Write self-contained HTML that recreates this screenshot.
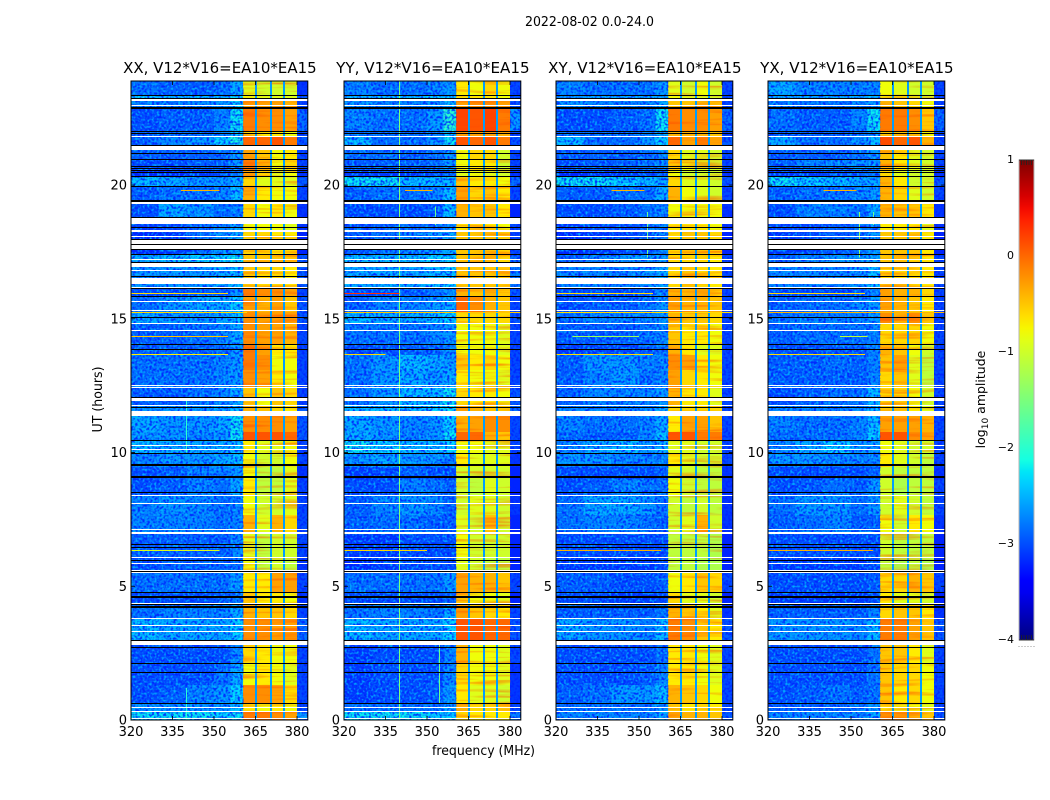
<!DOCTYPE html>
<html lang="en">
<head>
<meta charset="utf-8">
<title>2022-08-02 0.0-24.0</title>
<style>
html,body{margin:0;padding:0;background:#fff;width:1050px;height:800px;overflow:hidden}
svg{display:block}
text{font-family:"DejaVu Sans","Liberation Sans",sans-serif;fill:#000}
</style>
</head>
<body>
<svg id="figure" xmlns="http://www.w3.org/2000/svg" width="1050" height="800" viewBox="0 0 1050 800">
  <defs>
    <linearGradient id="cbGrad" x1="0" y1="1" x2="0" y2="0"></linearGradient>
    <filter id="grainLight" x="0" y="0" width="1" height="1" color-interpolation-filters="sRGB">
      <feTurbulence type="fractalNoise" baseFrequency="0.42" numOctaves="1" seed="3"/>
      <feColorMatrix type="matrix" values="0 0 0 0 0  0 0 0 0 0.72  0 0 0 0 1  0 0 0 3.6 -1.75"/>
    </filter>
    <filter id="grainDark" x="0" y="0" width="1" height="1" color-interpolation-filters="sRGB">
      <feTurbulence type="fractalNoise" baseFrequency="0.42" numOctaves="1" seed="11"/>
      <feColorMatrix type="matrix" values="0 0 0 0 0  0 0 0 0 0.14  0 0 0 0 1  0 0 0 4.2 -1.8"/>
    </filter>
    <filter id="bandStreak" x="0" y="0" width="1" height="1" color-interpolation-filters="sRGB">
      <feTurbulence type="fractalNoise" baseFrequency="0.015 0.28" numOctaves="2" seed="7"/>
      <feColorMatrix type="matrix" values="0 0 0 0 1  0 0 0 0 0.3  0 0 0 0 0  0 0 0 3 -1.5"/>
    </filter>
  </defs>
  <text x="589.5" y="26" font-size="13" text-anchor="middle" textLength="129" lengthAdjust="spacingAndGlyphs">2022-08-02 0.0-24.0</text>
  <text x="483.5" y="755" font-size="13" text-anchor="middle" textLength="103" lengthAdjust="spacingAndGlyphs">frequency (MHz)</text>
  <text x="0" y="0" transform="translate(102,399.5) rotate(-90)" font-size="13" text-anchor="middle" textLength="66" lengthAdjust="spacingAndGlyphs">UT (hours)</text>
  <text x="0" y="0" transform="translate(985,399.5) rotate(-90)" font-size="12.5" text-anchor="middle">log<tspan font-size="9" dy="3">10</tspan><tspan dy="-3"> amplitude</tspan></text>
</svg>
<script>
// Axis domains
const freqMin = 320, freqMax = 383.9;
const hourMin = 0, hourMax = 23.89;
const colorMin = -4, colorMax = 1;

// Tick labels
const freqTicks = [320, 335, 350, 365, 380];
const hourTicks = [0, 5, 10, 15, 20];
const colorTicks = [1, 0, -1, -2, -3, -4];
const colorTickLabels = ['1', '0', '\u22121', '\u22122', '\u22123', '\u22124'];

// Panel titles
const panelTitles = ['XX, V12*V16=EA10*EA15', 'YY, V12*V16=EA10*EA15', 'XY, V12*V16=EA10*EA15', 'YX, V12*V16=EA10*EA15'];
const panelKeys = ['xx', 'yy', 'xy', 'yx'];

// Frequency channel edges (MHz): 5 background blocks, then the bright bands and the notches between them
const bgEdges = [320, 330, 340, 350, 356, 360.5];
const bandRanges = [[360.5, 364.8], [365.5, 370.2], [370.9, 374.9], [375.7, 380]];
const notchRanges = [[364.8, 365.5], [370.2, 370.9], [374.9, 375.7]];
const postRange = [380, 384];
const notchLevel = [-2.6, -2.6, -2.6, -2.6];

// Time block upper edges (UT hours)
const blockTops = [23.89,23.36,23.18,22.84,22.02,21.79,21.31,20.97,20.56,20.34,19.96,19.29,18.54,18.24,17.42,16.95,16.15,15.85,15.25,14.80,14.06,13.64,13.08,12.45,11.74,11.36,10.77,10.43,9.98,9.46,9.01,8.37,7.66,6.95,6.06,5.50,4.79,4.34,3.78,2.99,2.09,1.31,0.60,0.30];

// log10 amplitude per block: five background blocks, four bands, post-band
const valuesXX = [
[-2.8,-2.9,-2.9,-2.8,-2.5,-.9,-1,-1,-1,-3.1],[-2.3,-2.4,-2.4,-2.4,-2.2,-.8,-.9,-.9,-.9,-2.9],[-2.7,-2.7,-2.7,-2.6,-2.3,-.3,-.3,-.3,-.4,-3],[-3,-2.9,-2.9,-2.7,-2.2,-.1,-.2,-.2,-.3,-2.8],
[-2.9,-2.8,-2.8,-2.7,-2.4,-.7,-.7,-.7,-.8,-3],[-2.9,-2.7,-2.6,-2.3,-2.1,0,0,.1,-.1,-2.9],[-2.9,-2.9,-2.9,-2.8,-2.6,-.3,-.5,-.8,-.7,-3],[-3,-3,-2.9,-2.9,-2.6,-.1,-.4,-.8,-.6,-3],
[-3.2,-3.2,-3.1,-3,-2.8,-.3,-.6,-.9,-.8,-3.1],[-2.4,-2.5,-2.6,-2.6,-2.5,-.6,-.9,-.9,-.9,-2.9],[-2.9,-2.8,-2.8,-2.7,-2.4,-.4,-.7,-.8,-.8,-3],[-3,-2.5,-2.6,-2.8,-2.7,-.6,-.8,-.7,-.8,-3.1],
[-3.1,-3,-2.8,-2.7,-2.5,-.8,-.8,-.8,-.9,-3.1],[-3.2,-3.1,-2.8,-2.6,-2.5,-.6,-.6,-.7,-.7,-3.2],[-2.5,-2.4,-2.3,-2.3,-2.2,-.5,-.5,-.5,-.6,-2.9],[-2.6,-2.6,-2.6,-2.5,-2.4,-.5,-.6,-.6,-.7,-2.9],
[-3,-3,-2.9,-2.9,-2.6,-.1,-.2,-.2,-.3,-3],[-2.8,-2.6,-2.5,-2.5,-2.3,-.3,-.4,-.3,-.5,-2.9],[-2.5,-2.6,-2.6,-2.5,-2.4,-.2,-.3,-.3,-.3,-2.9],[-2.9,-2.9,-2.8,-2.7,-2.5,-.2,-.3,-.3,-.4,-3],
[-2.9,-2.9,-2.9,-2.8,-2.6,-.1,-.3,-.7,-.7,-3],[-2.8,-2.8,-2.8,-2.7,-2.6,-.1,-.2,-.8,-.8,-3],[-2.8,-2.8,-2.8,-2.7,-2.6,-.2,-.3,-.7,-.8,-3],[-2.9,-2.9,-2.8,-2.7,-2.5,-.5,-.8,-.5,-.6,-3],
[-2.6,-2.6,-2.6,-2.5,-2.4,-.4,-.5,-.6,-.7,-2.9],[-2.5,-2.6,-2.6,-2.5,-2.2,-.2,-.2,-.2,-.3,-2.9],[-2.6,-2.6,-2.7,-2.6,-2.2,.1,.1,.1,0,-2.9],[-2.4,-2.5,-2.5,-2.5,-2.4,-.7,-.9,-.9,-.8,-3],
[-2.7,-2.6,-2.6,-2.5,-2.4,-.8,-1,-1,-.8,-3],[-3,-2.9,-2.7,-2.7,-2.6,-.8,-1.1,-1.1,-.9,-3.1],[-3,-2.9,-2.7,-2.8,-2.5,-.7,-1.1,-1.1,-.9,-3],[-2.7,-2.6,-2.7,-2.8,-2.7,-.8,-1,-1,-.9,-3],
[-2.7,-2.7,-2.7,-2.8,-2.7,-.4,-.9,-.4,-.6,-3],[-2.9,-2.9,-2.9,-2.9,-2.7,-.9,-1.1,-1,-1,-3],[-3,-2.9,-2.9,-2.9,-2.8,-.8,-1.1,-1,-1.1,-3.1],[-2.8,-2.8,-2.8,-2.8,-2.6,-.7,-.7,-.3,-.3,-3],
[-3,-3,-3,-2.9,-2.8,-.5,-.7,-.7,-.8,-3.1],[-2.8,-2.7,-2.7,-2.7,-2.5,-.4,-.5,-.5,-.6,-3],[-2.4,-2.5,-2.5,-2.5,-2.3,-.2,-.2,-.3,-.3,-2.8],[-3,-3,-3,-3,-2.7,-.6,-.7,-.8,-.8,-3],
[-3,-3,-3,-2.8,-2.5,-.8,-.7,-.8,-.9,-3],[-3,-2.9,-2.7,-2.6,-2.3,-.2,-.2,-.3,-.6,-3],[-2.6,-2.6,-2.6,-2.6,-2.4,-.7,-.8,-.7,-.8,-3],[-2.2,-2.2,-2.2,-2.3,-2.2,-.1,-.1,-.2,-.3,-2.6]
];
const valuesYY = [
[-2.7,-2.8,-2.8,-2.7,-2.6,-.7,-.8,-.6,-.8,-3],[-2.4,-2.4,-2.4,-2.3,-2.3,-.7,-.7,-.7,-.8,-2.9],[-2.6,-2.7,-2.7,-2.6,-2.4,-.3,-.2,-.2,-.3,-2.9],[-2.7,-2.8,-2.8,-2.6,-2,.2,.1,.2,-.1,-2.6],
[-2.8,-2.8,-2.8,-2.7,-2.4,-.3,-.3,-.3,-.4,-3],[-2.4,-2.8,-2.8,-2.6,-2.2,.1,0,.1,-.1,-2.9],[-2.8,-2.8,-2.9,-2.8,-2.6,-.8,-.6,-.6,-1,-3],[-2.9,-2.9,-2.9,-2.8,-2.6,-.8,-.7,-.7,-1,-3],
[-3.1,-3.1,-3.1,-3,-2.9,-.9,-.8,-.9,-1,-3.1],[-2.2,-2.2,-2.4,-2.4,-2.4,-.5,-.7,-.7,-.8,-2.8],[-2.9,-2.8,-2.8,-2.7,-2.4,-.3,-.6,-.5,-.7,-3],[-3,-3,-3,-2.9,-2.4,-.4,-.5,-.5,-.7,-3.2],
[-3,-2.9,-2.8,-2.8,-2.7,-.7,-.6,-.7,-.8,-3],[-2.9,-2.8,-2.7,-2.6,-2.5,-.5,-.5,-.5,-.6,-3],[-2.4,-2.4,-2.4,-2.3,-2.3,-.5,-.5,-.5,-.6,-2.8],[-2.5,-2.5,-2.5,-2.4,-2.3,-.5,-.5,-.5,-.5,-2.7],
[-3,-3,-2.9,-2.8,-2.6,-.4,-.5,-.4,-.5,-2.9],[-2.9,-2.7,-2.7,-2.6,-2.5,0,-.2,-.4,-.5,-3],[-2.4,-2.5,-2.5,-2.4,-2.3,-.6,-.6,-.6,-.6,-2.9],[-2.8,-2.8,-2.8,-2.7,-2.6,-.8,-.8,-.8,-.9,-3],
[-3,-3,-2.9,-2.9,-2.7,-.8,-.8,-.8,-.9,-3],[-2.8,-2.6,-2.4,-2.5,-2.6,-.5,-.7,-.6,-.8,-3],[-2.8,-2.6,-2.5,-2.6,-2.5,-.7,-.8,-.8,-.9,-3],[-2.8,-2.6,-2.4,-2.4,-2.2,-.6,-.7,-.7,-.8,-2.9],
[-2.4,-2.4,-2.4,-2.3,-2.2,-.3,-.4,-.5,-.5,-2.8],[-2.5,-2.6,-2.7,-2.6,-2.3,-.4,-.3,-.2,-.2,-3],[-2.5,-2.6,-2.7,-2.6,-2.2,0,0,-.4,-.5,-3],[-2.2,-2.3,-2.4,-2.4,-2.3,-.8,-.8,-.9,-.9,-3],
[-2.6,-2.5,-2.6,-2.6,-2.7,-.7,-.9,-.9,-.9,-3.1],[-3.1,-3,-2.9,-3,-3,-1,-1,-1,-1,-3.2],[-3,-3,-2.7,-2.8,-2.9,-1,-1.1,-.9,-1,-3.2],[-2.9,-2.7,-2.6,-2.7,-2.9,-1,-.9,-.9,-1,-3.1],
[-2.9,-2.8,-2.8,-2.9,-2.9,-.9,-1,-.5,-1,-3.2],[-3.1,-3.1,-3,-3,-3,-.8,-1,-1,-1,-3.2],[-3.2,-3.1,-3,-3,-3,-.9,-1,-1.1,-1.1,-3.2],[-2.8,-2.8,-2.8,-2.8,-2.6,-.3,-.4,-.4,-.5,-3],
[-3,-3,-3,-3,-2.9,-.5,-.8,-.8,-.9,-3.2],[-2.8,-2.7,-2.7,-2.8,-2.5,-.3,-.5,-.6,-.7,-3],[-2.4,-2.5,-2.5,-2.5,-2.3,.1,.1,0,0,-2.9],[-3.1,-3,-3,-3,-2.7,-.4,-.8,-.8,-.9,-3],
[-3.1,-3,-3,-3,-2.7,-.6,-.8,-.8,-.9,-3.1],[-3.1,-3,-3,-2.9,-2.6,-.7,-.9,-.9,-1,-3.1],[-2.8,-2.8,-2.8,-2.8,-2.5,-.4,-.6,-.6,-.5,-3],[-2.2,-2.2,-2.2,-2.3,-2.3,-.6,-.7,-.7,-.7,-2.7]
];
const valuesXY = [
[-2.7,-2.8,-2.8,-2.8,-2.6,-.9,-1,-.8,-1,-3],[-2.6,-2.5,-2.5,-2.5,-2.4,-.8,-.9,-.9,-1,-3],[-2.6,-2.7,-2.7,-2.7,-2.5,-.5,-.5,-.4,-.5,-3],[-3,-3,-2.9,-2.8,-2.2,-.1,-.2,-.2,-.3,-2.8],
[-2.8,-2.8,-2.8,-2.7,-2.5,-.4,-.4,-.4,-.5,-3],[-2.4,-2.8,-2.8,-2.6,-2.3,0,-.3,-.1,-.3,-2.9],[-2.9,-2.9,-2.9,-2.8,-2.7,-.6,-.9,-.9,-1,-3],[-3,-2.9,-2.9,-2.8,-2.7,-.5,-.8,-.9,-1,-3],
[-3.2,-3.1,-3.1,-3,-2.9,-.8,-1,-1,-1,-3.1],[-2.2,-2.2,-2.3,-2.4,-2.5,-.6,-.9,-.9,-1,-2.9],[-2.9,-2.9,-2.8,-2.8,-2.5,-.4,-.8,-.9,-1,-3],[-3,-3,-2.9,-2.8,-2.7,-.8,-.8,-.8,-.8,-3.1],
[-3.1,-3,-3,-2.9,-2.7,-.7,-.7,-.7,-.8,-3.1],[-3.2,-3.1,-3,-2.9,-2.7,-.6,-.5,-.5,-.6,-3.2],[-2.9,-2.7,-2.6,-2.6,-2.6,-.6,-.6,-.6,-.7,-3],[-2.7,-2.7,-2.7,-2.6,-2.5,-.6,-.5,-.6,-.7,-3],
[-3,-3,-3,-2.9,-2.7,-.4,-.5,-.5,-.6,-3],[-3,-2.9,-2.9,-2.8,-2.6,-.3,-.4,-.4,-.5,-3],[-2.8,-2.7,-2.7,-2.7,-2.6,-.4,-.5,-.5,-.6,-3],[-2.9,-2.9,-2.9,-2.8,-2.7,-.5,-.7,-.7,-.8,-3],
[-3.1,-3,-3,-2.9,-2.8,-.4,-.7,-.9,-.9,-3],[-2.9,-2.6,-2.6,-2.7,-2.7,-.2,-.3,-.7,-.8,-3],[-2.9,-2.7,-2.6,-2.8,-2.7,-.3,-.6,-.7,-.8,-3],[-2.9,-2.7,-2.7,-2.7,-2.6,-.4,-.7,-.7,-.9,-3],
[-2.7,-2.7,-2.7,-2.7,-2.5,-.6,-.6,-.6,-.6,-3],[-2.7,-2.8,-2.8,-2.7,-2.5,-.7,-.3,-.3,-.5,-3],[-2.8,-2.9,-2.9,-2.7,-2.4,.1,.1,-.1,-.1,-3],[-2.7,-2.5,-2.4,-2.6,-2.5,-.9,-.9,-1,-1,-3],
[-2.6,-2.6,-2.7,-2.7,-2.7,-.7,-.9,-1,-1,-3],[-3,-3,-3,-3,-2.9,-.9,-1,-1.1,-1.1,-3.1],[-3,-2.9,-2.7,-2.8,-2.8,-.8,-1,-1.1,-1.1,-3.1],[-2.8,-2.5,-2.5,-2.6,-2.8,-1,-1.1,-1,-1.1,-3.1],
[-2.8,-2.7,-2.7,-2.8,-2.9,-1,-.9,-.4,-1,-3.1],[-3,-3,-3,-3,-3,-1.1,-1.1,-1.1,-1.2,-3.2],[-3.1,-3.1,-3.1,-3.1,-3,-1.1,-1.1,-1.2,-1.2,-3.2],[-2.9,-2.9,-3,-3,-2.9,-.8,-.7,-.5,-.6,-3],
[-3,-3,-3.1,-3.1,-3,-.6,-.9,-.9,-1,-3.2],[-2.9,-2.9,-2.9,-2.9,-2.8,-.4,-.5,-.7,-.9,-3.1],[-2.5,-2.6,-2.6,-2.7,-2.4,-.1,-.2,-.5,-.7,-2.9],[-3,-3,-3,-3,-2.8,-.7,-.7,-.8,-.9,-3],
[-3,-3,-3,-2.9,-2.7,-.7,-.7,-.8,-.9,-3],[-2.9,-2.8,-2.6,-2.6,-2.4,-.4,-.5,-.6,-.8,-3],[-2.8,-2.8,-2.8,-2.8,-2.6,-.5,-.7,-.6,-.7,-3],[-2.7,-2.7,-2.7,-2.7,-2.5,-.3,-.4,-.4,-.5,-2.9]
];
const valuesYX = [
[-2.5,-2.7,-2.7,-2.7,-2.7,-.8,-.9,-1,-1,-3],[-2.5,-2.5,-2.5,-2.5,-2.4,-.8,-.8,-.9,-1,-3],[-2.7,-2.8,-2.8,-2.7,-2.6,-.4,-.5,-.6,-.8,-3],[-2.8,-2.9,-2.9,-2.7,-2.2,-.1,-.1,-.2,-.5,-2.8],
[-2.9,-2.9,-2.9,-2.8,-2.6,-.5,-.5,-.6,-.8,-3],[-2.5,-2.8,-2.8,-2.6,-2.4,.15,0,.1,-.4,-3],[-2.9,-2.9,-2.9,-2.8,-2.6,-.5,-.7,-.9,-1,-3],[-2.9,-2.7,-2.7,-2.6,-2.6,-.4,-.7,-.9,-1,-3],
[-3.1,-3.1,-3,-2.9,-2.8,-.6,-.9,-1,-1,-3.1],[-2.2,-2.3,-2.4,-2.5,-2.5,-.4,-.7,-1,-1,-2.9],[-2.9,-2.8,-2.8,-2.7,-2.6,-.4,-.6,-.9,-1,-3],[-3,-2.7,-2.7,-2.8,-2.5,-.4,-.5,-.5,-.7,-3.1],
[-3,-3,-2.9,-2.8,-2.7,-.7,-.7,-.7,-.9,-3.1],[-3.1,-3,-2.9,-2.8,-2.6,-.5,-.5,-.5,-.7,-3.2],[-2.9,-2.7,-2.6,-2.6,-2.5,-.5,-.5,-.6,-.7,-3],[-2.7,-2.7,-2.7,-2.6,-2.4,-.6,-.6,-.6,-.7,-3],
[-3,-3,-3,-2.9,-2.7,-.3,-.4,-.4,-.6,-3],[-2.9,-2.8,-2.8,-2.7,-2.6,-.3,-.4,-.5,-.7,-3],[-2.8,-2.7,-2.7,-2.7,-2.6,-.2,-.4,-.2,-.5,-3],[-2.9,-2.8,-2.8,-2.8,-2.7,-.6,-.6,-.6,-.8,-3],
[-3,-3,-2.9,-2.9,-2.7,-.4,-.5,-.8,-1,-3],[-2.9,-2.9,-2.8,-2.9,-2.7,-.5,-.3,-.9,-1.1,-3],[-2.9,-2.9,-2.9,-2.9,-2.7,-.6,-.5,-.9,-1.1,-3],[-3,-2.9,-2.8,-2.8,-2.4,-.6,-.6,-.8,-1,-3],
[-2.7,-2.7,-2.7,-2.7,-2.4,-.5,-.5,-.7,-.9,-3],[-2.7,-2.8,-2.8,-2.7,-2.4,-.3,-.3,-.3,-.4,-3],[-2.8,-2.8,-2.8,-2.7,-2.3,.1,.1,-.2,-.3,-3],[-2.7,-2.5,-2.3,-2.6,-2.6,-.8,-.9,-1,-1,-3],
[-2.6,-2.6,-2.7,-2.7,-2.7,-.7,-.9,-1,-1.1,-3],[-3,-3,-3,-3,-2.9,-1,-1.1,-1.1,-1.1,-3.1],[-3,-2.9,-2.8,-2.9,-2.6,-1,-1.2,-1.1,-1.1,-3],[-2.8,-2.6,-2.6,-2.8,-2.6,-1,-.9,-1,-1.1,-3],
[-2.9,-2.8,-2.7,-2.9,-2.9,-.8,-1,-.7,-.8,-3.1],[-3,-3,-3,-3,-3,-1,-1.1,-1.1,-1.1,-3.2],[-3.1,-3.1,-3.1,-3.1,-3,-1.1,-1.2,-1.1,-1.2,-3.2],[-3,-3,-3,-3,-2.9,-.6,-.6,-.4,-.5,-3],
[-3.1,-3.1,-3.1,-3.1,-3,-.7,-.9,-.9,-1,-3.2],[-2.9,-2.9,-2.9,-2.9,-2.7,-.6,-.5,-.5,-.7,-3.1],[-2.6,-2.6,-2.6,-2.7,-2.4,-.1,-.1,-.3,-.5,-2.9],[-3,-3,-3,-3,-2.8,-.5,-.5,-.7,-.9,-3],
[-3,-3,-3,-3,-2.8,-.5,-.6,-.6,-.8,-3],[-3,-2.9,-2.8,-2.9,-2.8,-.5,-.7,-.6,-.8,-3],[-2.9,-2.9,-2.9,-2.8,-2.6,-.6,-.8,-.8,-.9,-3],[-2.7,-2.7,-2.7,-2.7,-2.5,-.2,-.3,-.4,-.5,-2.9]
];

// Narrow interference tracks per panel: hour, start MHz, end MHz, log10 amplitude
const rfiXX = [[15.96,320,355,-.6],[15.26,320,362,-.6],[14.36,320,355,-.5],[13.68,320,355,-.7],[19.81,338,352,-.4],[6.37,320,352,-.9]];
const rfiYY = [[15.96,320,340,.3],[15.26,320,384,-.5],[13.68,320,335,-.6],[19.81,342,352,-.4],[6.37,320,350,-.6]];
const rfiXY = [[15.96,320,355,-.6],[15.26,320,384,-.6],[14.36,326,350,-1.3],[13.68,320,355,-.6],[19.81,340,352,-.4],[6.37,320,358,-.4]];
const rfiYX = [[15.96,320,355,-.6],[15.26,320,384,-.4],[14.36,346,356,-1.1],[13.68,320,355,-.6],[19.81,340,352,-.4],[6.37,320,358,-.4]];

// Vertical narrowband features per panel: MHz, start hour, end hour, log10 amplitude
const spurXX = [[340,0,1.2,-2],[340,10,12,-2]];
const spurYY = [[339.9,0,23.89,-1.5],[354.5,.6,2.9,-1.6],[353,18.5,19.2,-1.6]];
const spurXY = [[353,17.3,19,-1.6]];
const spurYX = [[353,17.3,19,-1.4],[358,18.5,19,-1.6]];

// Flagged (blank) time ranges: upper hour, lower hour
const blankRanges = [[23.20,23.16],[23.0,22.95],[21.83,21.79],[21.48,21.31],[19.36,19.29],[18.78,18.55],[18.32,18.24],[18.11,18.06],[17.94,17.81],[17.76,17.62],[17.23,17.18],[17.09,16.95],[16.81,16.77],[16.54,16.30],[16.19,16.15],[15.66,15.63],[15.32,15.28],[14.84,14.80],[14.59,14.55],[12.54,12.50],[12.46,12.42],[12.02,11.94],[11.79,11.75],[11.55,11.36],[10.27,10.23],[10.15,10.11],[8.43,8.39],[8.11,8.07],[7.14,7.10],[7.01,6.97],[6.09,6.05],[5.87,5.83],[5.61,5.51],[4.39,4.36],[3.83,3.79],[3.54,3.50],[3.33,3.29],[2.96,2.80],[0.49,0.45],[0.35,0.31],[0.07,0.04]];

// Zero-amplitude scans drawn as black lines (UT hours)
const darkScans = [23.36,23.24,22.03,21.93,21.50,21.21,20.96,20.71,20.65,20.56,20.49,20.34,19.97,18.79,18.42,17.98,17.79,17.61,17.42,17.14,16.60,16.14,15.86,15.08,14.06,13.87,12.06,11.70,10.46,10.0,8.51,6.57,6.48,5.99,5.57,4.80,4.35,3.00,2.72,2.12,1.78,0.62];
const darkScansWide = [22.87,19.42,9.53,9.07,4.59,4.22];

const allValues = [valuesXX, valuesYY, valuesXY, valuesYX];
const allRfi = [rfiXX, rfiYY, rfiXY, rfiYX];
const allSpur = [spurXX, spurYY, spurXY, spurYX];

const svg = document.getElementById('figure');
const NS = 'http://www.w3.org/2000/svg';
const axesLeft = [131, 344, 556, 768];
const axesWidth = 176.8, axesTop = 81, axesBottom = 720;
const cbLeft = 1019, cbWidth = 15, cbTop = 160, cbBottom = 640;

function xScale(f, left) { return left + (f - freqMin) / (freqMax - freqMin) * axesWidth; }
function yScale(h) { return axesBottom - (h - hourMin) / (hourMax - hourMin) * (axesBottom - axesTop); }
function cbScale(v) { return cbBottom - (v - colorMin) / (colorMax - colorMin) * (cbBottom - cbTop); }

function interp(t, pts) {
  for (let i = 1; i < pts.length; i++) {
    if (t <= pts[i][0]) {
      const a = pts[i - 1], b = pts[i];
      return a[1] + (b[1] - a[1]) * (t - a[0]) / (b[0] - a[0]);
    }
  }
  return pts[pts.length - 1][1];
}
function jet(v) {
  const t = Math.max(0, Math.min(1, (v - colorMin) / (colorMax - colorMin)));
  const r = interp(t, [[0,0],[.35,0],[.66,1],[.89,1],[1,.5]]);
  const g = interp(t, [[0,0],[.125,0],[.375,1],[.64,1],[.91,0],[1,0]]);
  const b = interp(t, [[0,.5],[.11,1],[.34,1],[.65,0],[1,0]]);
  return 'rgb(' + Math.round(r * 255) + ',' + Math.round(g * 255) + ',' + Math.round(b * 255) + ')';
}
function make(tag, attrs, parent) {
  const el = document.createElementNS(NS, tag);
  for (const k in attrs) el.setAttribute(k, attrs[k]);
  parent.appendChild(el);
  return el;
}
function cell(parent, x0, x1, y0, y1, fill) {
  const r = make('rect', { x: x0, y: y0, width: x1 - x0, height: y1 - y0, fill: fill, 'shape-rendering': 'crispEdges' }, parent);
  
  
  return r;
}
function texture(parent, x0, x1, filterId, name, opacity) {
  const r = make('rect', { x: x0, y: axesTop, width: x1 - x0, height: axesBottom - axesTop, fill: '#000', filter: 'url(#' + filterId + ')', opacity: opacity }, parent);
  
  
  return r;
}

panelKeys.forEach(function (key, p) {
  const left = axesLeft[p];
  const right = left + axesWidth;
  const g = make('g', {}, svg);
  
  

  const title = make('text', { x: left + axesWidth / 2 + .5, y: 73, 'font-size': 15.5, 'text-anchor': 'middle', textLength: 193.5, lengthAdjust: 'spacingAndGlyphs' }, g);
  title.textContent = panelTitles[p];
  
  

  const heat = make('g', {}, g);
  
  

  blockTops.forEach(function (top, i) {
    const y0 = yScale(top);
    const y1 = yScale(i + 1 < blockTops.length ? blockTops[i + 1] : hourMin);
    const row = allValues[p][i];
    for (let c = 0; c < bgEdges.length - 1; c++) {
      cell(heat, xScale(bgEdges[c], left), xScale(bgEdges[c + 1], left), y0, y1, jet(row[c]));
    }
    bandRanges.forEach(function (b, k) {
      cell(heat, xScale(b[0], left), xScale(b[1], left), y0, y1, jet(row[5 + k]));
    });
    notchRanges.forEach(function (n) {
      cell(heat, xScale(n[0], left), xScale(n[1], left), y0, y1, jet(notchLevel[p]));
    });
    cell(heat, xScale(postRange[0], left), right, y0, y1, jet(row[9]));
  });

  // Receiver-noise grain and band streak texture over the block colours
  const bgRight = xScale(bgEdges[bgEdges.length - 1], left);
  texture(g, left, bgRight, 'grainDark', 'background-grain-dark', .9);
  texture(g, left, bgRight, 'grainLight', 'background-grain-light', .9);
  const postLeft = xScale(postRange[0], left);
  texture(g, postLeft, right, 'grainDark', 'post-band-grain-dark', .9);
  bandRanges.forEach(function (b) {
    texture(g, xScale(b[0], left), xScale(b[1], left), 'bandStreak', 'band-streak', .55);
  });

  allSpur[p].forEach(function (s) {
    const x = Math.round(xScale(s[0], left));
    cell(g, x, x + 1, yScale(s[2]), yScale(s[1]), jet(s[3]));
  });
  allRfi[p].forEach(function (r) {
    const y = Math.round(yScale(r[0]));
    cell(g, xScale(r[1], left), Math.min(right, xScale(r[2], left)), y, y + 1, jet(r[3]));
  });

  blankRanges.forEach(function (b) {
    const y0 = Math.round(yScale(b[0]));
    const y1 = Math.max(y0 + 1, Math.round(yScale(b[1])));
    const r = make('rect', { x: left, y: y0, width: axesWidth, height: y1 - y0, fill: '#fff', 'shape-rendering': 'crispEdges' }, g);
    
    
  });
  darkScans.forEach(function (h) {
    const r = make('rect', { x: left, y: Math.round(yScale(h)), width: axesWidth, height: 1, fill: '#000', 'shape-rendering': 'crispEdges' }, g);
    
    
  });
  darkScansWide.forEach(function (h) {
    const r = make('rect', { x: left, y: Math.round(yScale(h)) - 1, width: axesWidth, height: 2, fill: '#000', 'shape-rendering': 'crispEdges' }, g);
    
    
  });

  const frame = make('rect', { x: left, y: axesTop, width: axesWidth, height: axesBottom - axesTop, fill: 'none', stroke: '#000', 'stroke-width': 1 }, g);
  
  

  freqTicks.forEach(function (f) {
    const x = xScale(f, left);
    const t1 = make('line', { x1: x, x2: x, y1: axesBottom, y2: axesBottom - 4, stroke: '#000', 'stroke-width': .8 }, g);
    
    
    const t2 = make('line', { x1: x, x2: x, y1: axesTop, y2: axesTop + 4, stroke: '#000', 'stroke-width': .8 }, g);
    
    
    const lab = make('text', { x: x, y: 736, 'font-size': 13, 'text-anchor': 'middle' }, g);
    lab.textContent = String(f);
    
    
  });
  hourTicks.forEach(function (h) {
    const y = yScale(h);
    const t1 = make('line', { x1: left, x2: left + 4, y1: y, y2: y, stroke: '#000', 'stroke-width': .8 }, g);
    
    
    const t2 = make('line', { x1: right, x2: right - 4, y1: y, y2: y, stroke: '#000', 'stroke-width': .8 }, g);
    
    
    const lab = make('text', { x: left - 4, y: y + 4.5, 'font-size': 13, 'text-anchor': 'end' }, g);
    lab.textContent = String(h);
    
    
  });
});

// Colorbar
const grad = document.getElementById('cbGrad');
for (let i = 0; i <= 40; i++) {
  const v = colorMin + (colorMax - colorMin) * i / 40;
  make('stop', { offset: (i / 40 * 100) + '%', 'stop-color': jet(v) }, grad);
}
const cb = make('g', {}, svg);


const cbFill = make('rect', { x: cbLeft, y: cbTop, width: cbWidth, height: cbBottom - cbTop, fill: 'url(#cbGrad)', stroke: '#b5b5b5', 'stroke-width': 1 }, cb);


const cbEdgeTop = make('line', { x1: cbLeft, x2: cbLeft + cbWidth, y1: cbTop, y2: cbTop, stroke: '#333', 'stroke-width': 1 }, cb);


const cbEdgeBottom = make('line', { x1: cbLeft, x2: cbLeft + cbWidth, y1: cbBottom, y2: cbBottom, stroke: '#333', 'stroke-width': 1 }, cb);


for (let i = 1; i < 6; i++) {
  const x = cbLeft + cbWidth * i / 6;
  const a = make('line', { x1: x, x2: x, y1: cbTop, y2: cbTop + 5, stroke: '#222', 'stroke-width': .8 }, cb);
  
  
  const b = make('line', { x1: x, x2: x, y1: cbBottom, y2: cbBottom - 5, stroke: '#222', 'stroke-width': .8 }, cb);
  
  
}
for (let i = 0; i < 6; i++) {
  const x = cbLeft + cbWidth * i / 5 - .5;
  const d = make('rect', { x: x, y: 646, width: 1, height: 1, fill: '#999' }, cb);
  
  
}
colorTicks.forEach(function (v, i) {
  const lab = make('text', { x: 1014, y: cbScale(v) + 3, 'font-size': 11, 'text-anchor': 'end' }, cb);
  lab.textContent = colorTickLabels[i];
  
  
});
</script>
</body>
</html>
